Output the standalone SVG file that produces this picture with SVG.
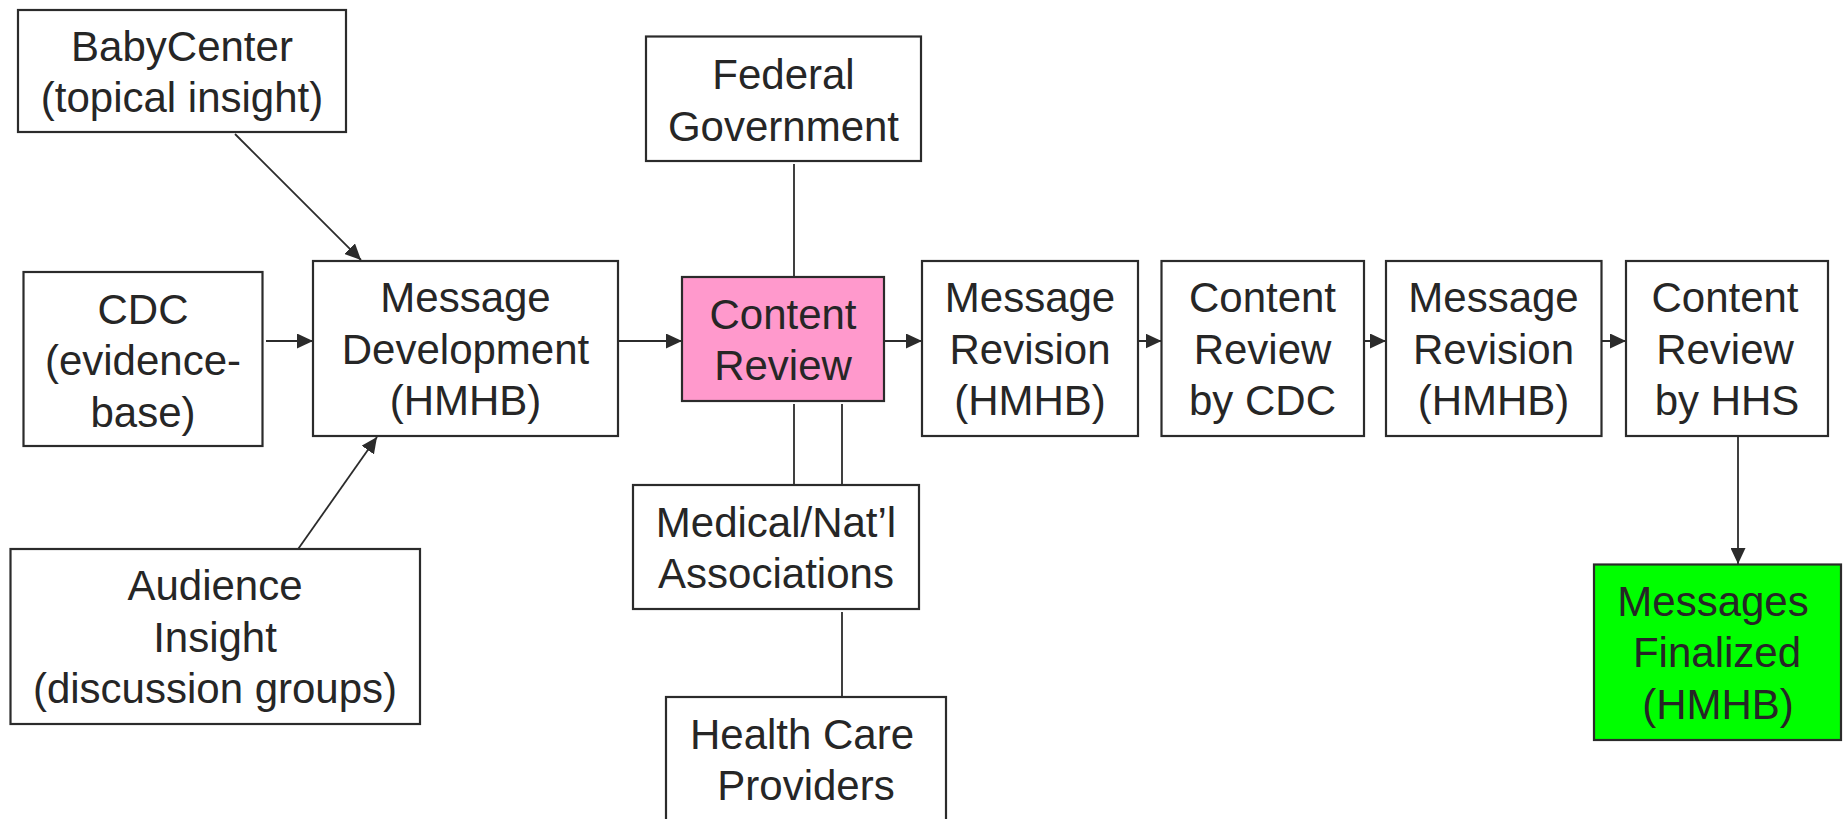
<svg xmlns="http://www.w3.org/2000/svg" width="1845" height="819" viewBox="0 0 1845 819">
<defs>
<marker id="arr" markerUnits="userSpaceOnUse" markerWidth="16" markerHeight="15" refX="16" refY="7.5" orient="auto">
<path d="M0,0 L16,7.5 L0,15 z" fill="#2b2b2b"/>
</marker>
</defs>
<style>
.box{fill:#ffffff;stroke:#2b2b2b;stroke-width:2.2}
.pink{fill:#ff99cc}
.green{fill:#00ff00}
.t{font-family:"Liberation Sans",Arial,sans-serif;font-size:42px;fill:#262626;text-anchor:middle}
.c{stroke:#2b2b2b;stroke-width:1.8;fill:none}
.a{marker-end:url(#arr)}
</style>
<rect width="1845" height="819" fill="#ffffff"/>
<g id="connectors">
<line class="c a" x1="235" y1="134" x2="361" y2="260"/>
<line class="c a" x1="266" y1="341" x2="313" y2="341"/>
<line class="c a" x1="298.5" y1="548.5" x2="377" y2="437"/>
<line class="c a" x1="618" y1="341" x2="682" y2="341"/>
<line class="c a" x1="873" y1="341" x2="922" y2="341"/>
<line class="c a" x1="1129" y1="341" x2="1161.5" y2="341"/>
<line class="c a" x1="1353" y1="341" x2="1386" y2="341"/>
<line class="c a" x1="1593" y1="341" x2="1626" y2="341"/>
<line class="c a" x1="1738" y1="436" x2="1738" y2="564"/>
<line class="c" x1="794" y1="164" x2="794" y2="277"/>
<line class="c" x1="794" y1="404" x2="794" y2="485"/>
<line class="c" x1="842" y1="404" x2="842" y2="485"/>
<line class="c" x1="842" y1="612" x2="842" y2="697"/>
</g>
<g id="babycenter">
<rect class="box" x="18" y="10" width="328" height="122"/>
<text class="t" x="182" y="61">BabyCenter</text>
<text class="t" x="182" y="112">(topical insight)</text>
</g>
<g id="cdc">
<rect class="box" x="23.5" y="272" width="239" height="174"/>
<text class="t" x="143" y="323.5">CDC</text>
<text class="t" x="143" y="375">(evidence-</text>
<text class="t" x="143" y="426.5">base)</text>
</g>
<g id="message-development">
<rect class="box" x="313" y="261" width="305" height="175"/>
<text class="t" x="465.5" y="312">Message</text>
<text class="t" x="465.5" y="363.5">Development</text>
<text class="t" x="465.5" y="415">(HMHB)</text>
</g>
<g id="audience-insight">
<rect class="box" x="10.5" y="549" width="409.5" height="175"/>
<text class="t" x="215" y="600">Audience</text>
<text class="t" x="215" y="651.5">Insight</text>
<text class="t" x="215" y="703">(discussion groups)</text>
</g>
<g id="federal-government">
<rect class="box" x="646" y="36.5" width="275" height="124.5"/>
<text class="t" x="783.5" y="89">Federal</text>
<text class="t" x="783.5" y="140.5">Government</text>
</g>
<g id="content-review">
<rect class="box pink" x="682" y="277" width="202" height="124"/>
<text class="t" x="783" y="328.5">Content</text>
<text class="t" x="783" y="380">Review</text>
</g>
<g id="medical-associations">
<rect class="box" x="633" y="485" width="286" height="124"/>
<text class="t" x="776" y="536.5">Medical/Nat’l</text>
<text class="t" x="776" y="588">Associations</text>
</g>
<g id="health-care-providers">
<rect class="box" x="666" y="697" width="280" height="140"/>
<text class="t" x="802" y="748.5">Health Care</text>
<text class="t" x="806" y="800">Providers</text>
</g>
<g id="message-revision-1">
<rect class="box" x="922" y="261" width="216" height="175"/>
<text class="t" x="1030" y="312">Message</text>
<text class="t" x="1030" y="363.5">Revision</text>
<text class="t" x="1030" y="415">(HMHB)</text>
</g>
<g id="content-review-cdc">
<rect class="box" x="1161.5" y="261" width="202.5" height="175"/>
<text class="t" x="1262.5" y="312">Content</text>
<text class="t" x="1262.5" y="363.5">Review</text>
<text class="t" x="1262.5" y="415">by CDC</text>
</g>
<g id="message-revision-2">
<rect class="box" x="1386" y="261" width="215.5" height="175"/>
<text class="t" x="1493.5" y="312">Message</text>
<text class="t" x="1493.5" y="363.5">Revision</text>
<text class="t" x="1493.5" y="415">(HMHB)</text>
</g>
<g id="content-review-hhs">
<rect class="box" x="1626" y="261" width="202" height="175"/>
<text class="t" x="1725" y="312">Content</text>
<text class="t" x="1725" y="363.5">Review</text>
<text class="t" x="1727" y="415">by HHS</text>
</g>
<g id="messages-finalized">
<rect class="box green" x="1594" y="564.5" width="247" height="175.5"/>
<text class="t" x="1713" y="615.5">Messages</text>
<text class="t" x="1717" y="667">Finalized</text>
<text class="t" x="1718" y="718.5">(HMHB)</text>
</g>
</svg>
